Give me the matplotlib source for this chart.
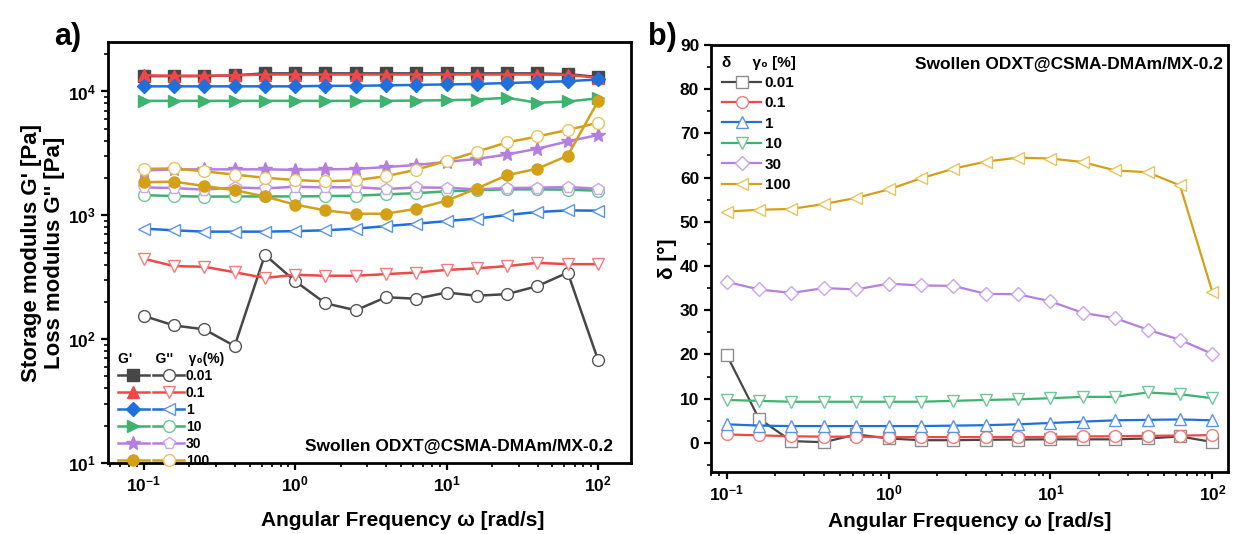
import numpy as np
import matplotlib
matplotlib.use("Agg")
import matplotlib.pyplot as plt
from matplotlib.legend_handler import HandlerTuple
from matplotlib.ticker import LogLocator, MultipleLocator, NullFormatter

plt.rcParams['font.family'] = ['Liberation Sans', 'DejaVu Sans']
plt.rcParams['font.weight'] = 'bold'
plt.rcParams['axes.labelweight'] = 'bold'
plt.rcParams['mathtext.default'] = 'bf'

# angular frequency (rad/s)
omega = [0.1, 0.158, 0.251, 0.398, 0.631, 1.0, 1.58, 2.51, 3.98, 6.31,
         10.0, 15.8, 25.1, 39.8, 63.1, 100.0]
strains = ['0.01', '0.1', '1', '10', '30', '100']

# storage modulus G' (Pa)
g1_001 = [13300, 13300, 13300, 13500, 14000, 14000, 14000, 14000, 14000, 14000,
          14000, 14000, 14000, 14000, 13800, 13100]
g1_01 = [13500, 13400, 13400, 13500, 13700, 13700, 13700, 13700, 13700, 13700,
         13700, 13700, 13700, 13700, 13600, 12900]
g1_1 = [11000, 11000, 11000, 11000, 11000, 11000, 11100, 11100, 11200, 11300,
        11400, 11500, 11700, 11900, 12100, 12500]
g1_10 = [8400, 8400, 8400, 8400, 8400, 8400, 8400, 8400, 8400, 8450,
         8500, 8600, 8900, 8100, 8300, 8800]
g1_30 = [2300, 2350, 2350, 2350, 2350, 2330, 2350, 2370, 2450, 2550,
         2700, 2850, 3100, 3450, 3950, 4450]
g1_100 = [1850, 1870, 1725, 1595, 1420, 1220, 1095, 1030, 1030, 1130,
          1313, 1645, 2110, 2380, 3030, 8340]

# loss modulus G'' (Pa)
g2_001 = [154, 129, 120, 88, 479, 294, 195, 171, 218, 212,
          238, 224, 231, 268, 345, 68]
g2_01 = [446, 389, 384, 347, 312, 331, 325, 325, 335, 345,
         362, 373, 389, 413, 403, 403]
g2_1 = [780, 757, 738, 738, 738, 745, 757, 780, 818, 855,
        898, 942, 1006, 1063, 1095, 1090]
g2_10 = [1455, 1430, 1415, 1420, 1420, 1420, 1430, 1440, 1475, 1510,
         1560, 1595, 1620, 1620, 1610, 1580]
g2_30 = [1680, 1660, 1610, 1680, 1650, 1700, 1680, 1690, 1630, 1680,
         1670, 1620, 1660, 1670, 1690, 1640]
g2_100 = [2370, 2390, 2265, 2130, 2010, 1925, 1880, 1920, 2070, 2335,
          2750, 3260, 3880, 4330, 4890, 5590]

# phase angle delta (deg)
d_001 = [19.9, 5.5, 0.4, 0.15, 1.9, 1.0, 0.6, 0.6, 0.7, 0.75,
         0.8, 0.8, 0.8, 1.0, 1.45, 0.2]
d_01 = [1.9, 1.7, 1.5, 1.4, 1.4, 1.3, 1.3, 1.3, 1.3, 1.3,
        1.35, 1.45, 1.5, 1.6, 1.65, 1.75]
d_1 = [4.2, 3.9, 3.8, 3.8, 3.8, 3.8, 3.8, 3.9, 4.0, 4.2,
       4.5, 4.8, 5.1, 5.2, 5.3, 5.1]
d_10 = [9.7, 9.5, 9.3, 9.3, 9.3, 9.3, 9.3, 9.5, 9.7, 9.85,
        10.1, 10.4, 10.4, 11.4, 11.0, 10.1]
d_30 = [36.4, 34.7, 33.9, 35.0, 34.7, 36.0, 35.6, 35.5, 33.7, 33.6,
        32.0, 29.4, 28.2, 25.6, 23.3, 20.1]
d_100 = [52.3, 52.7, 52.9, 54.0, 55.4, 57.3, 59.8, 62.0, 63.6, 64.5,
         64.3, 63.5, 61.6, 61.2, 58.2, 34.1]

colors = ['#474747', '#f04848', '#1f6fdc', '#3cb36f', '#b57fe0', '#d4a017']
light = ['#8c8c8c', '#f47c7c', '#5a95e8', '#6fc896', '#cba6ec', '#e6c45e']
g1_all = [g1_001, g1_01, g1_1, g1_10, g1_30, g1_100]
g2_all = [g2_001, g2_01, g2_1, g2_10, g2_30, g2_100]
d_all = [d_001, d_01, d_1, d_10, d_30, d_100]
g1_markers = ['s', '^', 'D', '>', '*', 'o']
g2_markers = ['o', 'v', '<', 'o', 'p', 'o']
d_markers = ['s', 'o', '^', 'v', 'D', '<']

fig = plt.figure(figsize=(12.34, 5.34), dpi=100)
ax1 = fig.add_axes([0.0875, 0.133, 0.4238, 0.788])
ax2 = fig.add_axes([0.5762, 0.116, 0.419, 0.800])

# ---- panel a
handles = []
for i in range(6):
    ms = 10 if g1_markers[i] == '*' else 8
    if g1_markers[i] == 'D':
        ms = 7
    h1, = ax1.plot(omega, g1_all[i], color=colors[i], marker=g1_markers[i],
                   markersize=ms, markerfacecolor=colors[i],
                   markeredgecolor=colors[i], lw=1.8)
    h2, = ax1.plot(omega, g2_all[i], color=colors[i], marker=g2_markers[i],
                   markersize=8.5, markerfacecolor='white',
                   markeredgecolor=light[i] if i > 0 else '#555555',
                   markeredgewidth=1.0, lw=1.8)
    handles.append((h1, h2))

ax1.set_xscale('log')
ax1.set_yscale('log')
ax1.set_xlim(0.058, 165)
ax1.set_ylim(10, 2.5e4)
ax1.set_xlabel('Angular Frequency \u03c9 [rad/s]', fontsize=15, labelpad=12)
ax1.xaxis.set_label_coords(0.563, -0.115)
ax1.set_ylabel("Storage modulus G' [Pa]\nLoss modulus G'' [Pa]", fontsize=16,
               labelpad=2, linespacing=1.12)
ax1.text(0.965, 0.022, 'Swollen ODXT@CSMA-DMAm/MX-0.2', transform=ax1.transAxes,
         ha='right', va='bottom', fontsize=12.5)
leg = ax1.legend(handles, strains,
                 handler_map={tuple: HandlerTuple(ndivide=None, pad=0.3)},
                 loc='lower left', bbox_to_anchor=(0.0, -0.035), frameon=False,
                 fontsize=10, handlelength=4.8, handletextpad=0.1,
                 labelspacing=0.22, borderaxespad=0.3,
                 title="G'      G''    \u03b3\u2080(%)", title_fontsize=10,
                 alignment='left')
leg.get_title().set_fontweight('bold')
fig.text(0.044, 0.915, 'a)', fontsize=22)

# ---- panel b
for i in range(6):
    ax2.plot(omega, d_all[i], color=colors[i], marker=d_markers[i],
             markersize=8.5 if d_markers[i] != 'D' else 7.5,
             markerfacecolor='white', markeredgecolor=light[i],
             markeredgewidth=1.0, lw=1.6, label=strains[i])
ax2.set_xscale('log')
ax2.set_xlim(0.080, 125)
ax2.set_ylim(-6.6, 90)
ax2.yaxis.set_major_locator(MultipleLocator(10))
ax2.yaxis.set_minor_locator(MultipleLocator(5))
ax2.set_xlabel('Angular Frequency \u03c9 [rad/s]', fontsize=15, labelpad=6)
ax2.set_ylabel('\u03b4 [\u00b0]', fontsize=15, labelpad=2)
ax2.text(0.99, 0.955, 'Swollen ODXT@CSMA-DMAm/MX-0.2', transform=ax2.transAxes,
         ha='right', va='center', fontsize=12.5)
leg2 = ax2.legend(loc='upper left', frameon=False, fontsize=11,
                  handlelength=2.6, handletextpad=0.2, labelspacing=0.42,
                  title="\u03b4     \u03b3\u2080 [%]", title_fontsize=11,
                  alignment='left', borderaxespad=0.3)
leg2.get_title().set_fontweight('bold')
fig.text(0.525, 0.915, 'b)', fontsize=22)

for ax in (ax1, ax2):
    for sp in ax.spines.values():
        sp.set_linewidth(2)
    ax.tick_params(which='major', direction='out', length=5, width=1.6,
                   labelsize=12.5, top=False, right=False)
    ax.tick_params(which='minor', direction='out', length=3, width=1.2,
                   top=False, right=False)
    ax.xaxis.set_major_locator(LogLocator(base=10, numticks=10))
    ax.xaxis.set_minor_locator(LogLocator(base=10, subs=np.arange(2, 10), numticks=20))
    ax.xaxis.set_minor_formatter(NullFormatter())
    for lab in ax.get_xticklabels() + ax.get_yticklabels():
        lab.set_fontweight('bold')
ax1.yaxis.set_minor_locator(LogLocator(base=10, subs=np.arange(2, 10), numticks=20))
ax1.yaxis.set_minor_formatter(NullFormatter())

fig.savefig('out.png', dpi=100)
